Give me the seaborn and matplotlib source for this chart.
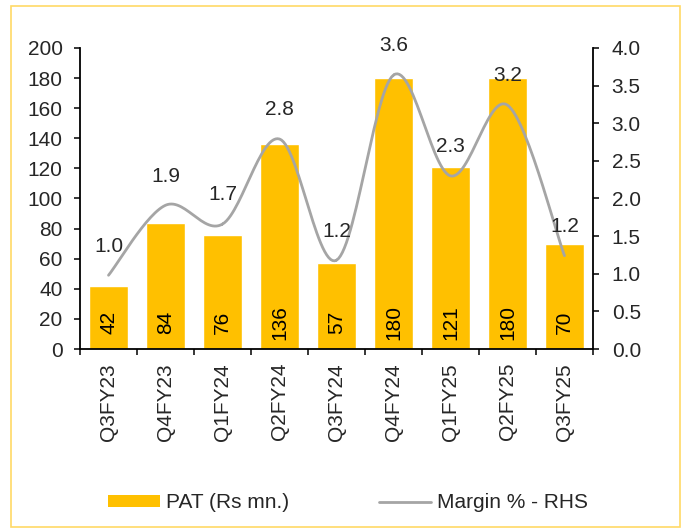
import numpy as np
import pandas as pd
import matplotlib
matplotlib.use("Agg")
import matplotlib.pyplot as plt
import seaborn as sns
from matplotlib.patches import Rectangle, Patch
from matplotlib.lines import Line2D

quarters = ["Q3FY23", "Q4FY23", "Q1FY24", "Q2FY24", "Q3FY24",
            "Q4FY24", "Q1FY25", "Q2FY25", "Q3FY25"]
pat = [42, 84, 76, 136, 57, 180, 121, 180, 70]
margin = [0.98, 1.91, 1.66, 2.79, 1.18, 3.64, 2.3, 3.24, 1.24]

sns.set_style("white")
plt.rcParams["font.family"] = ["Liberation Sans", "DejaVu Sans"]
fs = 15

bar_color = "#FFC000"
line_color = "#A5A5A5"

fig = plt.figure(figsize=(6.88, 5.3), dpi=100)
ax = fig.add_axes([0.1163, 0.3415, 0.7456, 0.568])

df = pd.DataFrame({"quarter": quarters, "pat": pat})
sns.barplot(data=df, x="quarter", y="pat", color=bar_color, width=0.67,
            saturation=1, ax=ax)
ax.set_xlim(-0.5, len(quarters) - 0.5)
ax.set_ylim(0, 200)
ax.set_yticks(range(0, 201, 20))
ax.set_xlabel("")
ax.set_ylabel("")
ax.set_xticks(range(len(quarters)))
ax.set_xticklabels(quarters, rotation=90, fontsize=fs)
ax.tick_params(axis="x", length=0, pad=10)
ax.tick_params(axis="y", length=4.5, width=1.3, direction="out", left=True,
               pad=8, labelsize=fs)
# category separator ticks
ax.set_xticks(np.arange(-0.5, len(quarters), 1), minor=True)
ax.tick_params(axis="x", which="minor", length=4.5, width=1.3,
               direction="out", bottom=True)
for s in ["top", "right"]:
    ax.spines[s].set_visible(False)
for s in ["left", "bottom"]:
    ax.spines[s].set_color("black")
    ax.spines[s].set_linewidth(1.3)

for i, v in enumerate(pat):
    ax.text(i, 17.5, str(v), rotation=90, ha="center", va="center",
            fontsize=fs, color="black")

# right axis with smoothed margin line
ax2 = ax.twinx()
ax2.set_ylim(0, 4.0)
rticks = np.arange(0, 4.01, 0.5)
ax2.set_yticks(rticks)
ax2.set_yticklabels([f"{t:.1f}" for t in rticks])
ax2.tick_params(axis="y", length=4.5, width=1.3, direction="out", right=True,
                pad=9, labelsize=fs)
for s in ["top", "left", "bottom"]:
    ax2.spines[s].set_visible(False)
ax2.spines["right"].set_color("black")
ax2.spines["right"].set_linewidth(1.3)

# Catmull-Rom smoothing like a spreadsheet smoothed line
x = np.arange(len(margin), dtype=float)
y = np.array(margin, dtype=float)
px = np.concatenate([[x[0]], x, [x[-1]]])
py = np.concatenate([[y[0]], y, [y[-1]]])
xs, ys = [], []
for k in range(1, len(px) - 2):
    t = np.linspace(0, 1, 30)
    for arr, out in ((px, xs), (py, ys)):
        p0, p1, p2, p3 = arr[k - 1], arr[k], arr[k + 1], arr[k + 2]
        out.extend(0.5 * ((2 * p1) + (-p0 + p2) * t
                          + (2 * p0 - 5 * p1 + 4 * p2 - p3) * t ** 2
                          + (-p0 + 3 * p1 - 3 * p2 + p3) * t ** 3))
smooth = pd.DataFrame({"x": xs, "y": ys})
sns.lineplot(data=smooth, x="x", y="y", color=line_color, linewidth=2.0,
             sort=False, estimator=None, ax=ax2)
ax2.set_xlabel("")
ax2.set_ylabel("")

for i, v in enumerate(margin):
    ax2.annotate(f"{v:.1f}", (i, v), xytext=(0, 21), textcoords="offset points",
                 ha="center", va="center", fontsize=fs)

handles = [Patch(facecolor=bar_color, edgecolor="none"),
           Line2D([0], [0], color=line_color, linewidth=2.0)]
fig.legend(handles, ["PAT (Rs mn.)", "Margin % - RHS"], loc="center",
           bbox_to_anchor=(0.506, 0.051), ncol=2, frameon=False,
           handlelength=2.5, handleheight=0.5, handletextpad=0.3,
           columnspacing=4.3, fontsize=fs)

fig.patches.append(Rectangle((11 / 688, 3 / 530), 669 / 688, 521 / 530,
                             transform=fig.transFigure, fill=False,
                             edgecolor="#FFD966", linewidth=1.2))

fig.savefig("out.png", dpi=100)
